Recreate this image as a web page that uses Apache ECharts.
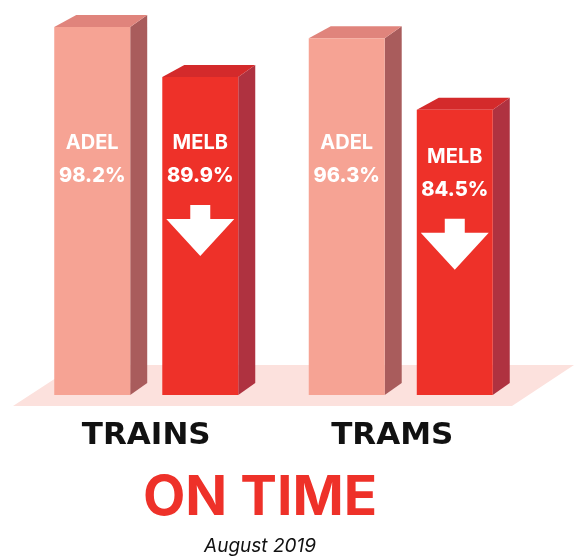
<!DOCTYPE html>
<html>
<head>
<meta charset="utf-8">
<script src="https://cdn.jsdelivr.net/npm/echarts@6/dist/echarts.min.js"></script>
<style>
  html, body { margin: 0; padding: 0; background: #fff; }
  #chart { width: 574px; height: 559px; }
</style>
</head>
<body>
<div id="chart"></div>
<script>
var categories = ['TRAINS', 'TRAMS'];
var adelValues = [98.2, 96.3];
var melbValues = [89.9, 84.5];
var seriesNames = ['ADEL', 'MELB'];
var yMin = 37.3;

var chart = echarts.init(document.getElementById('chart'), null, {renderer: 'canvas'});

var palette = {
    ADEL: {front: '#F6A394', side: '#A95C5C', top: '#E0847C'},
    MELB: {front: '#EE3129', side: '#AF3240', top: '#D42A2B'}
};

function makeRender(name, dir) {
    return function (params, api) {
        var cat = api.value(0), val = api.value(1);
        var top = api.coord([cat, val]);
        var base = api.coord([cat, yMin]);
        var band = api.size([1, 0])[0];
        var cx = top[0];
        var x0, x1;
        if (dir < 0) { x0 = cx - band * 0.3615; x1 = cx - band * 0.063; }
        else { x0 = cx + band * 0.063; x1 = cx + band * 0.3615; }
        var ty = top[1], by = base[1];
        var c = palette[name];
        var mid = (x0 + x1) / 2;
        var ly = Math.max(by - 252, ty + 47);
        var kids = [
            {type: 'polygon', shape: {points: [[x1, ty], [x1 + 17, ty - 12], [x1 + 17, by - 12], [x1, by]]}, style: {fill: c.side}},
            {type: 'polygon', shape: {points: [[x0, ty], [x1, ty], [x1 + 17, ty - 12], [x0 + 22, ty - 12]]}, style: {fill: c.top}},
            {type: 'rect', shape: {x: x0, y: ty, width: x1 - x0, height: by - ty}, style: {fill: c.front}},
            {type: 'text', style: {x: mid, y: ly, text: name, fill: '#fff', align: 'center', verticalAlign: 'middle',
                font: '700 20px Inter'}},
            {type: 'text', style: {x: mid, y: ly + 33, text: val.toFixed(1) + '%', fill: '#fff', align: 'center', verticalAlign: 'middle',
                font: '800 20px Inter'}}
        ];
        if (name === 'MELB') {
            var at = ly + 62;
            kids.push({type: 'polygon', shape: {points: [
                [mid - 10, at], [mid + 10, at], [mid + 10, at + 14], [mid + 34, at + 14],
                [mid, at + 51], [mid - 34, at + 14], [mid - 10, at + 14]
            ]}, style: {fill: '#fff'}});
        }
        return {type: 'group', children: kids};
    };
}

var option = {
    animation: false,
    grid: {left: 19, right: 46, top: 16, bottom: 164},
    xAxis: {
        type: 'category',
        data: categories,
        axisLine: {show: false},
        axisTick: {show: false},
        axisLabel: {
            margin: 25,
            formatter: function (v) { return v === 'TRAMS' ? '{b|' + v + '}' : '{a|' + v + '}'; },
            rich: {
                a: {fontFamily: 'DejaVu Sans', fontWeight: 'bold', fontSize: 31, color: '#111'},
                b: {fontFamily: 'DejaVu Sans', fontWeight: 'bold', fontSize: 31, color: '#111', padding: [0, 17, 0, 0]}
            }
        }
    },
    yAxis: {type: 'value', min: yMin, max: 100, show: false, splitLine: {show: false}},
    graphic: [
        {type: 'polygon', z: 0, shape: {points: [[13, 406], [512, 406], [574, 365], [76, 365]]}, style: {fill: '#FCE1DD'}},
        {type: 'text', x: 260, y: 498, style: {text: 'ON TIME', fill: '#EE3129', align: 'center', verticalAlign: 'middle',
            font: '700 55px Inter'}},
        {type: 'text', x: 260, y: 546, style: {text: 'August 2019', fill: '#111', align: 'center', verticalAlign: 'middle',
            font: 'italic 400 19px Inter'}}
    ],
    series: [
        {type: 'custom', name: seriesNames[0], z: 5, renderItem: makeRender('ADEL', -1),
            data: categories.map(function (c, i) { return [i, adelValues[i]]; })},
        {type: 'custom', name: seriesNames[1], z: 5, renderItem: makeRender('MELB', 1),
            data: categories.map(function (c, i) { return [i, melbValues[i]]; })}
    ]
};

chart.setOption(option);
</script>
</body>
</html>
